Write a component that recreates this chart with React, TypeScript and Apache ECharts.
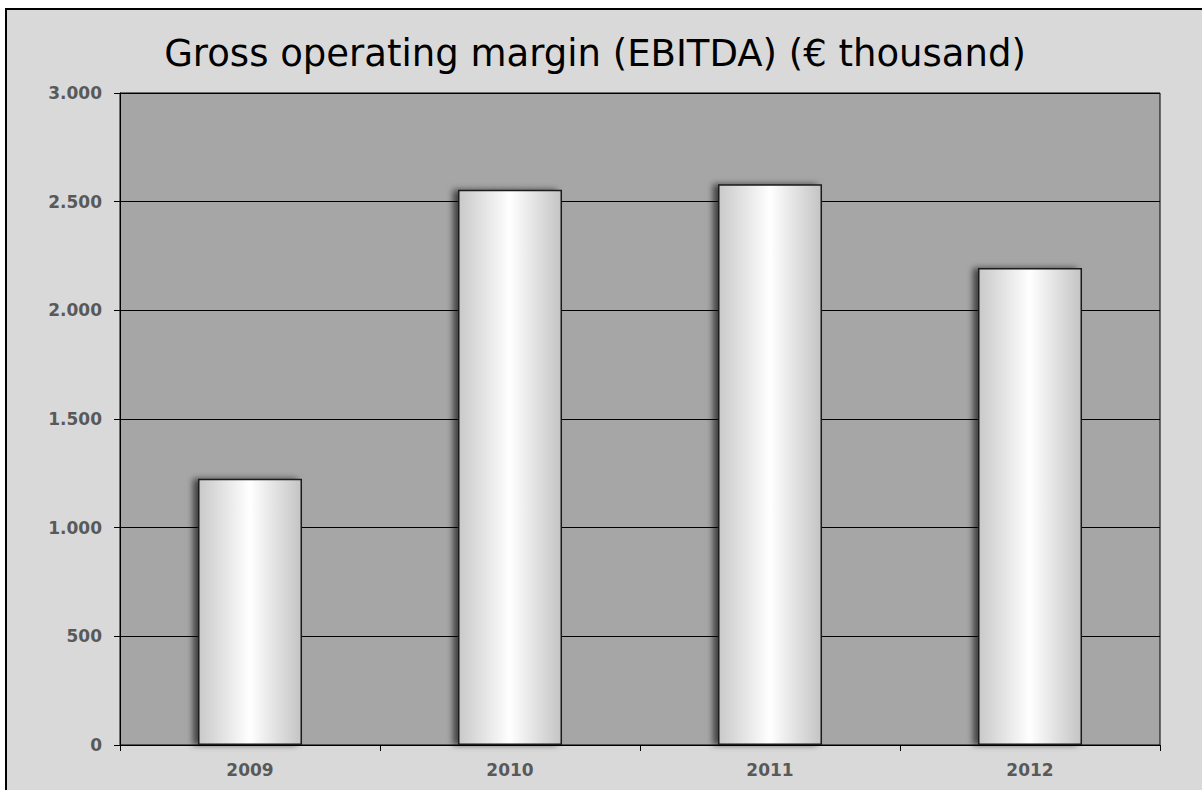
import React, { useEffect, useRef } from "react";
import * as echarts from "echarts";

const categories = ["2009", "2010", "2011", "2012"];
const ebitda = [1225, 2555, 2580, 2195];
const yTicks = { min: 0, max: 3000, interval: 500 };
const titleText = "Gross operating margin (EBITDA) (€ thousand)";

const fmt = (v: number) => String(v).replace(/\B(?=(\d{3})+(?!\d))/g, ".");

export default function App() {
  const ref = useRef<HTMLDivElement>(null);
  useEffect(() => {
    if (!ref.current) return;
    const chart = echarts.init(ref.current, undefined, { renderer: "svg" });
    const labelStyle = {
      color: "#595959",
      fontWeight: "bold" as const,
      fontSize: 17,
      fontFamily: "'DejaVu Sans', sans-serif",
    };
    chart.setOption({
      animation: false,
      backgroundColor: "#ffffff",
      graphic: [
        {
          type: "rect",
          z: -10,
          shape: { x: 6, y: 9, width: 1300, height: 900 },
          style: { fill: "#d9d9d9", stroke: "#000", lineWidth: 2 },
          silent: true,
        },
        {
          type: "text",
          x: 595,
          y: 53,
          style: {
            text: titleText,
            fill: "#000",
            fontSize: 37,
            fontFamily: "'DejaVu Sans', sans-serif",
            textAlign: "center",
            textVerticalAlign: "middle",
          },
        },
      ],
      grid: {
        left: 120,
        top: 93,
        right: 42,
        bottom: 45,
        show: true,
        backgroundColor: "#a6a6a6",
        borderColor: "#000",
        borderWidth: 1,
      },
      xAxis: {
        type: "category",
        data: categories,
        axisLine: { show: true, lineStyle: { color: "#000", width: 1 } },
        axisTick: { show: true, length: 6, alignWithLabel: false, lineStyle: { color: "#000" } },
        axisLabel: { ...labelStyle, margin: 16 },
        splitLine: { show: false },
      },
      yAxis: {
        type: "value",
        min: yTicks.min,
        max: yTicks.max,
        interval: yTicks.interval,
        axisLine: { show: true, lineStyle: { color: "#000", width: 1 } },
        axisTick: { show: true, length: 6, lineStyle: { color: "#000" } },
        axisLabel: { ...labelStyle, margin: 18, formatter: (v: number) => fmt(v) },
        splitLine: { show: true, lineStyle: { color: "#000", width: 1 } },
      },
      series: [
        {
          type: "bar",
          data: ebitda,
          barWidth: "40%",
          itemStyle: {
            color: new echarts.graphic.LinearGradient(0, 0, 1, 0, [
              { offset: 0, color: "#c9c9c9" },
              { offset: 0.5, color: "#ffffff" },
              { offset: 1, color: "#c4c4c4" },
            ]),
            borderColor: "#1a1a1a",
            borderWidth: 1.5,
            shadowColor: "rgba(0,0,0,0.6)",
            shadowBlur: 6,
            shadowOffsetX: -5,
            shadowOffsetY: 0,
          },
        },
      ],
    });
    return () => chart.dispose();
  }, []);
  return (
    <div
      ref={ref}
      style={{ position: "fixed", left: 0, top: 0, width: 1202, height: 790 }}
    />
  );
}
